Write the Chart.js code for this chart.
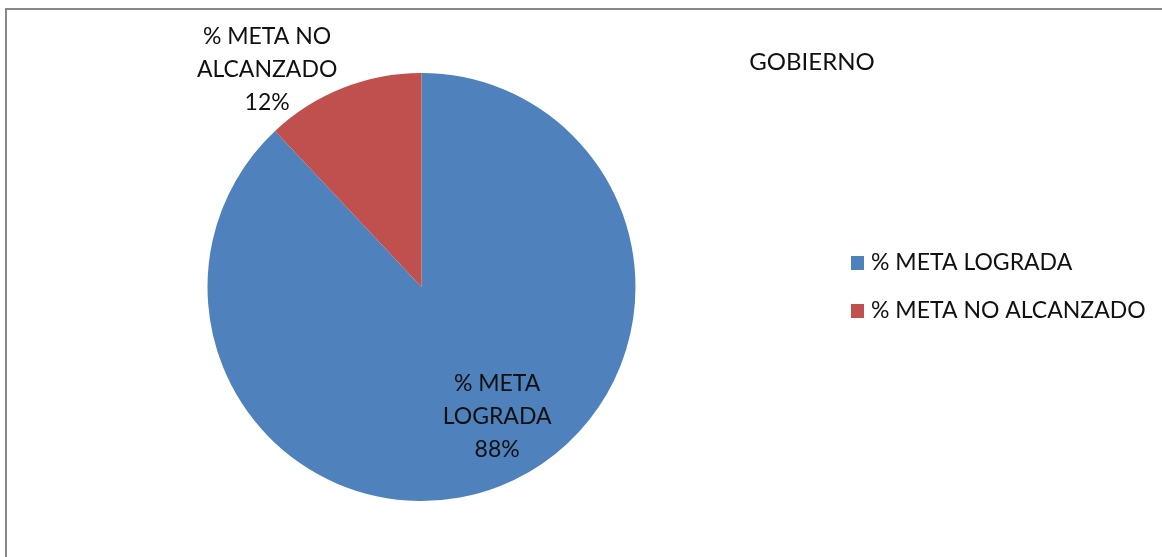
<!DOCTYPE html>
<html>
<head>
<meta charset="utf-8">
<script src="https://cdn.jsdelivr.net/npm/chart.js@4"></script>
<style>
    body { margin: 0; background: #fff; }
    #wrap { position: relative; width: 1162px; height: 557px; }
    #frame {
        position: absolute; left: 5px; top: 8px; right: 0; bottom: 0;
        border-top: 2px solid #878787; border-left: 2px solid #878787;
    }
    #chart { position: absolute; left: 0; top: 0; }
</style>
</head>
<body>
<div id="wrap">
    <div id="frame"></div>
    <canvas id="chart" width="1162" height="557"></canvas>
</div>
<script>
// Data
const labels = ['% META LOGRADA', '% META NO ALCANZADO'];
const values = [88, 12];
const colors = ['#4F81BD', '#C0504D'];
const titleText = 'GOBIERNO';

const FONT = '23px Lato';

// slice labels, placed from each arc's middle angle (fx, fy = radius fraction)
const labelLines = [
    ['% META', 'LOGRADA', values[0] + '%'],
    ['% META NO', 'ALCANZADO', values[1] + '%']
];
const labelPlace = [
    { fx: 0.96, fy: 0.65 },
    { fx: 1.96, fy: 1.095 }
];

const extrasPlugin = {
    id: 'extras',
    afterDatasetsDraw(chart) {
        const ctx = chart.ctx;
        const arcs = chart.getDatasetMeta(0).data;
        ctx.save();
        ctx.font = FONT;
        ctx.fillStyle = '#111';
        ctx.textAlign = 'center';
        ctx.textBaseline = 'middle';

        arcs.forEach((arc, i) => {
            const p = arc.getProps(['x', 'y', 'startAngle', 'endAngle', 'outerRadius']);
            const mid = (p.startAngle + p.endAngle) / 2;
            const x = p.x + Math.cos(mid) * p.outerRadius * labelPlace[i].fx;
            const y = p.y + Math.sin(mid) * p.outerRadius * labelPlace[i].fy;
            const lines = labelLines[i];
            lines.forEach((t, j) => {
                ctx.fillText(t, x, y + (j - (lines.length - 1) / 2) * 33);
            });
        });

        // title
        ctx.font = '24px Lato';
        ctx.fillText(titleText, 812, 62);
        ctx.font = FONT;

        // legend
        ctx.textAlign = 'left';
        labels.forEach((t, i) => {
            const y = 263 + i * 48;
            ctx.fillStyle = colors[i];
            ctx.fillRect(851, y - 7, 13, 14);
            ctx.fillStyle = '#111';
            ctx.fillText(t, 871, y);
        });
        ctx.restore();
    }
};

new Chart(document.getElementById('chart'), {
    type: 'pie',
    data: {
        labels: labels,
        datasets: [{
            data: values,
            backgroundColor: colors,
            borderWidth: 0
        }]
    },
    options: {
        responsive: false,
        animation: false,
        layout: {
            padding: { top: 73, bottom: 56, left: 207, right: 526 }
        },
        plugins: {
            legend: { display: false },
            tooltip: { enabled: false }
        }
    },
    plugins: [extrasPlugin]
});
</script>
</body>
</html>
